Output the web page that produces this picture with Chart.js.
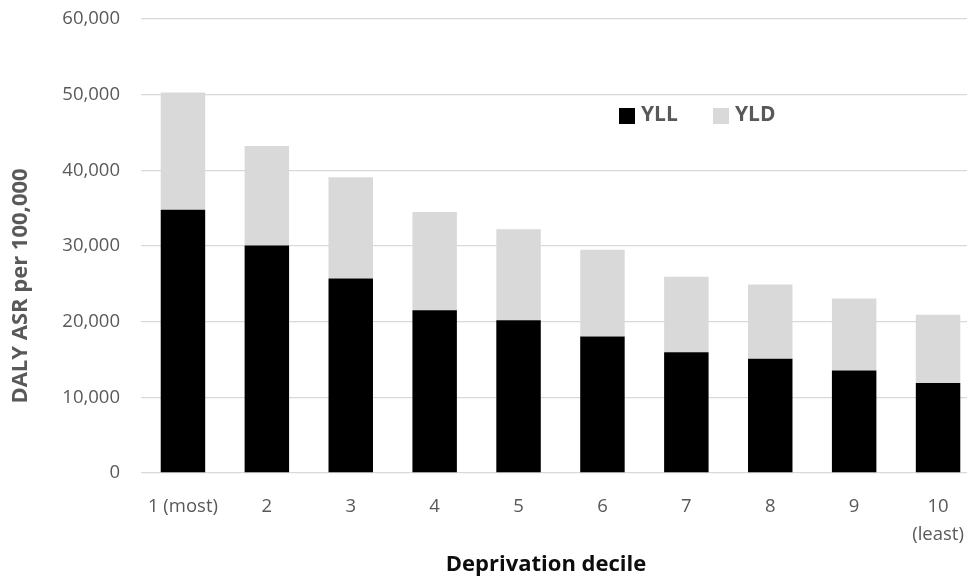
<!DOCTYPE html>
<html>
<head>
<meta charset="utf-8">
<script src="https://cdn.jsdelivr.net/npm/chart.js@4"></script>
<style>
html,body{margin:0;padding:0;background:#ffffff;overflow:hidden}
#wrap{width:980px;height:579px;position:relative}
</style>
</head>
<body>
<div id="wrap"><canvas id="c"></canvas></div>
<script>
const categories = ["1 (most)", "2", "3", "4", "5", "6", "7", "8", "9", ["10", "(least)"]];
const yllValues = [34800, 30050, 25700, 21500, 20200, 18050, 15950, 15100, 13550, 11900];
const yldValues = [15500, 13150, 13400, 13000, 12000, 11450, 10000, 9800, 9500, 9000];
const seriesNames = ["YLL", "YLD"];
const seriesColors = ["#000000", "#d9d9d9"];
const yMin = 0, yMax = 60000, yStep = 10000;
const xAxisTitle = "Deprivation decile";
const yAxisTitle = "DALY ASR per 100,000";

const textColor = "#595959";
const fontFamily = "'Open Sans', Lato, sans-serif";

const overlay = {
  id: "overlay",
  afterDraw(chart) {
    const ctx = chart.ctx;
    ctx.save();
    ctx.font = "bold 22px " + fontFamily;
    ctx.textAlign = "center";
    ctx.textBaseline = "middle";
    ctx.fillStyle = "#0d0d0d";
    ctx.fillText(xAxisTitle, 546, 565);
    ctx.fillStyle = textColor;
    ctx.save();
    ctx.translate(21, 286);
    ctx.rotate(-Math.PI / 2);
    ctx.fillText(yAxisTitle, 0, 0);
    ctx.restore();
    // legend
    ctx.font = "bold 21px " + fontFamily;
    const items = chart.data.datasets;
    const boxX = [619, 713];
    ctx.textAlign = "left";
    items.forEach((ds, i) => {
      ctx.fillStyle = ds.backgroundColor;
      ctx.fillRect(boxX[i], 108, 16, 16);
      ctx.fillStyle = textColor;
      ctx.fillText(ds.label, boxX[i] + 22, 115);
    });
    ctx.restore();
  }
};

new Chart(document.getElementById("c"), {
  type: "bar",
  data: {
    labels: categories,
    datasets: [
      { label: seriesNames[0], data: yllValues, backgroundColor: seriesColors[0], barPercentage: 0.53, categoryPercentage: 1.0, borderWidth: 0 },
      { label: seriesNames[1], data: yldValues, backgroundColor: seriesColors[1], barPercentage: 0.53, categoryPercentage: 1.0, borderWidth: 0 }
    ]
  },
  options: {
    responsive: true,
    maintainAspectRatio: false,
    animation: false,
    layout: { padding: { top: 19, left: 0, right: 0, bottom: 0 } },
    plugins: { legend: { display: false }, tooltip: { enabled: false } },
    scales: {
      x: {
        stacked: true,
        grid: { display: false },
        border: { display: false },
        ticks: { color: textColor, font: { family: fontFamily, size: 18.5, lineHeight: 1.5 }, padding: 12, maxRotation: 0, autoSkip: false },
        afterFit(s) { s.height = 106; }
      },
      y: {
        stacked: true,
        min: yMin,
        max: yMax,
        ticks: { stepSize: yStep, color: textColor, font: { family: fontFamily, size: 18.5 }, padding: 0,
          callback: v => v.toLocaleString("en-US") },
        grid: { color: "#d9d9d9", lineWidth: 1.3, drawTicks: true, tickLength: 21, tickColor: "rgba(0,0,0,0)" },
        border: { display: false },
        afterFit(s) { s.width = 141; }
      }
    }
  },
  plugins: [overlay]
});
</script>
</body>
</html>
